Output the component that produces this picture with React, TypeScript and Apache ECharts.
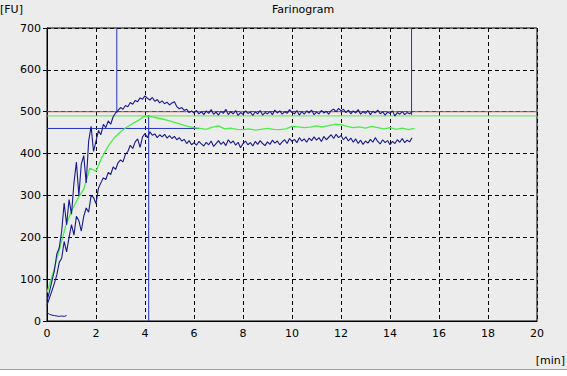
import React, { useEffect, useRef } from "react";
import * as echarts from "echarts";

const titleText = "Farinogram";
const yUnit = "[FU]";
const xUnit = "[min]";

const xTicks = { min: 0, max: 20, interval: 2 };
const yTicks = { min: 0, max: 700, interval: 100 };

// Band curves sampled every 0.1 min, from 0.0 to 14.9 min
const bandStepMin = 0.1;
const upperFU = [
  48, 70, 95, 120, 160, 175, 215, 282, 230, 290,
  255, 330, 380, 300, 375, 395, 330, 430, 465, 405,
  430, 455, 445, 470, 462, 478, 470, 488, 497, 503,
  510, 506, 515, 512, 522, 518, 527, 524, 533, 530,
  538, 532, 528, 534, 525, 529, 521, 526, 519, 523,
  516, 521, 524, 512, 507, 510, 503, 506, 498, 502,
  497, 503, 495, 500, 493, 502, 496, 505, 494, 499,
  492, 501, 496, 506, 493, 500, 495, 503, 491, 498,
  494, 502, 496, 499, 491, 500, 495, 503, 492, 498,
  495, 501, 493, 504, 497, 502, 494, 500, 496, 505,
  498, 495, 503, 492, 500, 494, 502, 497, 504, 493,
  499, 495, 503, 497, 501, 494, 503, 506, 500, 508,
  502, 506, 498, 504, 495, 502, 497, 505, 494, 500,
  496, 503, 493, 501, 497, 504, 495, 500, 492, 499,
  496, 502, 490, 498, 494, 500, 493, 498, 495, 500,
];
const lowerFU = [
  38, 55, 72, 90, 110, 140, 150, 190, 165, 200,
  230, 205, 250, 240, 215, 250, 270, 260, 300, 295,
  280, 318, 330, 342, 338, 355, 350, 368, 362, 378,
  385, 380, 398, 405, 420, 412, 428, 435, 415, 440,
  448, 438, 452, 444, 447, 438, 445, 440, 446, 437,
  443, 436, 441, 433, 438, 430, 434, 424, 431, 421,
  426, 420, 429, 423, 418, 427, 421, 430, 417, 424,
  431, 422, 428, 419, 433, 425, 430, 420, 427, 414,
  424, 430, 421, 426, 418, 429, 422, 431, 424, 419,
  428, 422, 432, 425, 430, 421, 428, 433, 424, 436,
  429, 434, 426, 438, 430, 435, 427, 437, 431, 440,
  432, 438, 429, 441, 433, 439, 445, 436, 446, 438,
  443, 433, 440, 430, 437, 427, 435, 424, 432, 422,
  430, 425, 434, 427, 438, 429, 423, 433, 426, 431,
  421, 429, 424, 433, 427, 436, 426, 432, 428, 438,
];

// Mean curve sampled every 0.25 min, from 0 to 15 min
const meanStepMin = 0.25;
const meanFU = [
  68, 115, 170, 225, 262, 292, 315, 365, 358, 392,
  418, 438, 452, 463, 472, 480, 490, 488, 485, 482,
  478, 474, 469, 465, 462, 460, 458, 463, 466, 459,
  461, 458, 457, 459, 456, 458, 460, 458, 457, 459,
  465, 464, 462, 463, 466, 464, 467, 470, 469, 465,
  462, 464, 461, 465, 462, 459, 462, 458, 461, 457,
  460,
];

// Short trace near zero at the start
const baseTimeMin = [0, 0.1, 0.2, 0.3, 0.4, 0.5, 0.6, 0.7, 0.8];
const baseFU = [20, 16, 14, 13, 12, 11, 12, 11, 13];

// Reference lines
const redLevelFU = 500;
const greenLevelFU = 490;
const blueLevel = { fu: 460, fromMin: 0, toMin: 6.2 };
const blueVerticals = [
  { min: 2.85, fromFU: 497, toFU: 700 },
  { min: 4.15, fromFU: 0, toFU: 492 },
  { min: 14.88, fromFU: 492, toFU: 700 },
];

const FONT = "DejaVu Sans";
const BG = "#ececec";

export default function App() {
  const ref = useRef<HTMLDivElement>(null);
  useEffect(() => {
    if (!ref.current) return;
    const chart = echarts.init(ref.current, undefined, { renderer: "svg" });
    const toPairs = (vals: number[], step: number) =>
      vals.map((v, i) => [Math.round(i * step * 100) / 100, v]);

    const navy = "#18188f";
    const markBlue = "#2436c4";

    const series: any[] = [
      {
        type: "line",
        data: [[xTicks.min, redLevelFU], [xTicks.max, redLevelFU]],
        symbol: "none",
        lineStyle: { color: "#c4402e", width: 1 },
        z: 2,
      },
      {
        type: "line",
        data: [[xTicks.min, greenLevelFU], [xTicks.max, greenLevelFU]],
        symbol: "none",
        lineStyle: { color: "#5ee84e", width: 1 },
        z: 2,
      },
      {
        type: "line",
        data: [[blueLevel.fromMin, blueLevel.fu], [blueLevel.toMin, blueLevel.fu]],
        symbol: "none",
        lineStyle: { color: markBlue, width: 1 },
        z: 3,
      },
      ...blueVerticals.map((v) => ({
        type: "line",
        data: [[v.min, v.fromFU], [v.min, v.toFU]],
        symbol: "none",
        lineStyle: { color: markBlue, width: 1 },
        z: 3,
      })),
      {
        type: "line",
        data: toPairs(meanFU, meanStepMin),
        symbol: "none",
        lineStyle: { color: "#48ee48", width: 1.3 },
        z: 4,
      },
      {
        type: "line",
        data: toPairs(upperFU, bandStepMin),
        symbol: "none",
        lineStyle: { color: navy, width: 1.1 },
        z: 5,
      },
      {
        type: "line",
        data: toPairs(lowerFU, bandStepMin),
        symbol: "none",
        lineStyle: { color: navy, width: 1.1 },
        z: 5,
      },
      {
        type: "line",
        data: baseTimeMin.map((t, i) => [t, baseFU[i]]),
        symbol: "none",
        lineStyle: { color: navy, width: 1 },
        z: 5,
      },
    ];

    chart.setOption({
      animation: false,
      backgroundColor: BG,
      grid: {
        left: 47,
        right: 30,
        top: 28,
        bottom: 55,
        show: true,
        borderColor: "#000",
        borderWidth: 1,
        backgroundColor: BG,
      },
      xAxis: {
        type: "value",
        min: xTicks.min,
        max: xTicks.max,
        interval: xTicks.interval,
        axisLine: { lineStyle: { color: "#000" } },
        axisTick: { show: false },
        axisLabel: { color: "#000", fontFamily: FONT, fontSize: 11, margin: 7 },
        splitLine: { show: true, lineStyle: { color: "#000", type: [4, 3], width: 1 } },
      },
      yAxis: {
        type: "value",
        min: yTicks.min,
        max: yTicks.max,
        interval: yTicks.interval,
        axisLine: { show: true, lineStyle: { color: "#000" } },
        axisTick: { show: true, length: 4, lineStyle: { color: "#000" } },
        axisLabel: { color: "#000", fontFamily: FONT, fontSize: 11, margin: 6 },
        splitLine: { show: true, lineStyle: { color: "#000", type: [4, 3], width: 1 } },
      },
      graphic: [
        {
          type: "text",
          left: 272,
          top: 4,
          style: { text: titleText, fill: "#000", font: `11px "${FONT}"` },
        },
        {
          type: "text",
          left: 0,
          top: 4,
          style: { text: yUnit, fill: "#000", font: `11px "${FONT}"` },
        },
        {
          type: "text",
          right: 2,
          top: 355,
          style: { text: xUnit, fill: "#000", font: `11px "${FONT}"` },
        },
        {
          type: "rect",
          shape: { x: 0, y: 369, width: 567, height: 7 },
          style: { fill: "#ffffff" },
        },
        {
          type: "line",
          shape: { x1: 0, y1: 369.5, x2: 567, y2: 369.5 },
          style: { stroke: "#a0a0a0", lineWidth: 1 },
        },
      ],
      series,
    });
    return () => chart.dispose();
  }, []);
  return (
    <div
      ref={ref}
      style={{ position: "fixed", left: 0, top: 0, width: 567, height: 376 }}
    />
  );
}
